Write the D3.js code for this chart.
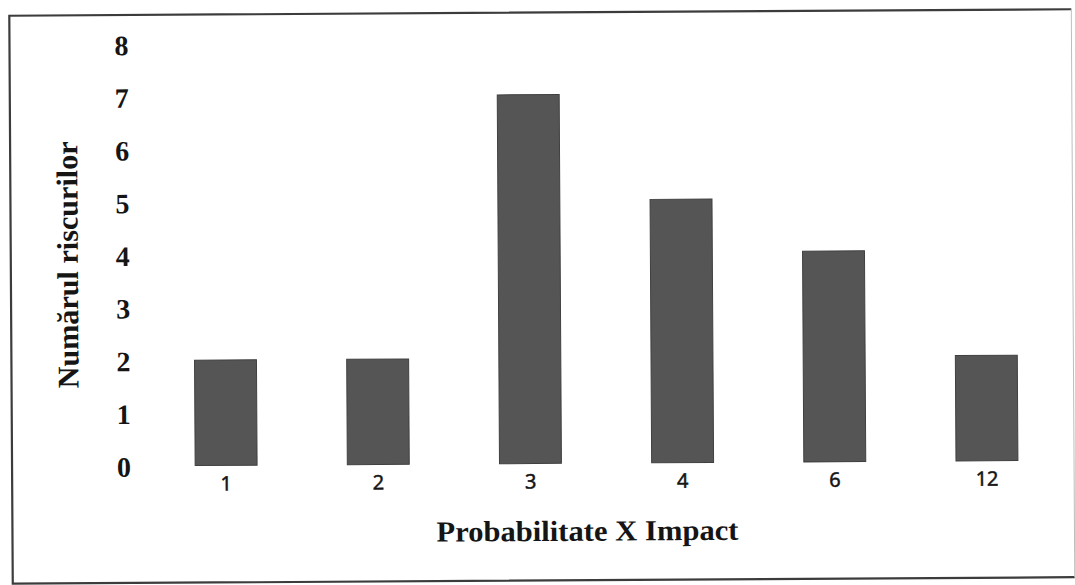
<!DOCTYPE html>
<html>
<head>
<meta charset="utf-8">
<script src="https://cdn.jsdelivr.net/npm/d3@7"></script>
<style>
  html, body { margin: 0; padding: 0; background: #ffffff; }
  svg { display: block; }
</style>
</head>
<body>
<svg id="chart" width="1075" height="585"></svg>
<script>
// Risk count per (probability x impact) score
const categories = ["1", "2", "3", "4", "6", "12"];
const riskCounts = [2, 2, 7, 5, 4, 2];
const yTicks = [0, 1, 2, 3, 4, 5, 6, 7, 8];
const xTitle = "Probabilitate X Impact";
const yTitle = "Numărul riscurilor";

const W = 1075, H = 585;
const svg = d3.select("#chart");

// whole sheet is drawn slightly tilted, as on the printed page
const page = svg.append("g")
  .attr("transform", `rotate(-0.35, ${W / 2}, ${H / 2})`);

// frame around the chart: dark top/left/bottom, faint right edge
const frame = { x0: 11, y0: 12.5, x1: 1073, y1: 580.5 };
page.append("path")
  .attr("d", `M${frame.x1},${frame.y0} H${frame.x0} V${frame.y1} H${frame.x1}`)
  .attr("fill", "none")
  .attr("stroke", "#3c3c3c")
  .attr("stroke-width", 2.2);
page.append("line")
  .attr("x1", frame.x1).attr("y1", frame.y0)
  .attr("x2", frame.x1).attr("y2", frame.y1)
  .attr("stroke", "#bdbdbd")
  .attr("stroke-width", 1);

const x = d3.scaleBand()
  .domain(categories)
  .range([149, 1062])
  .paddingInner(0.593)
  .paddingOuter(0.2965);

const y = d3.scaleLinear()
  .domain([0, 8])
  .range([463.5, 42]);

// bars
page.append("g")
  .selectAll("rect")
  .data(categories)
  .join("rect")
  .attr("x", d => x(d))
  .attr("y", (d, i) => y(riskCounts[i]))
  .attr("width", x.bandwidth())
  .attr("height", (d, i) => y(0) - y(riskCounts[i]))
  .attr("fill", "#555555")
  .attr("stroke", "#404040")
  .attr("stroke-width", 1);

// y axis: labels only, no line or ticks
const yAxis = page.append("g")
  .attr("transform", "translate(131,0)")
  .call(d3.axisLeft(y).tickValues(yTicks).tickFormat(d3.format("d")).tickSize(0).tickPadding(0));
yAxis.select(".domain").remove();
yAxis.selectAll("text")
  .attr("x", -8)
  .attr("dy", "0.36em")
  .attr("text-anchor", "middle")
  .attr("font-family", "'Liberation Serif', 'Times New Roman', serif")
  .attr("font-weight", "bold")
  .attr("font-size", 28)
  .attr("fill", "#151515");

// x axis: labels only
const xAxis = page.append("g")
  .attr("transform", `translate(0,${y(0)})`)
  .call(d3.axisBottom(x).tickSize(0).tickPadding(0));
xAxis.select(".domain").remove();
xAxis.selectAll("text")
  .attr("y", 25)
  .attr("dy", 0)
  .attr("font-family", "'Noto Sans', 'Open Sans', sans-serif")
  .attr("font-size", 20)
  .attr("fill", "#151515")
  .attr("stroke", "#151515")
  .attr("stroke-width", 0.5);

// axis titles
page.append("text")
  .attr("x", 586).attr("y", 541)
  .attr("text-anchor", "middle")
  .attr("font-family", "'Liberation Serif', 'Times New Roman', serif")
  .attr("font-weight", "bold")
  .attr("font-size", 29)
  .attr("textLength", 302)
  .attr("lengthAdjust", "spacingAndGlyphs")
  .attr("fill", "#151515")
  .text(xTitle);

page.append("text")
  .attr("transform", "translate(78,262) rotate(-90)")
  .attr("text-anchor", "middle")
  .attr("font-family", "'Liberation Serif', 'Times New Roman', serif")
  .attr("font-weight", "bold")
  .attr("font-size", 30)
  .attr("textLength", 247)
  .attr("lengthAdjust", "spacingAndGlyphs")
  .attr("fill", "#151515")
  .text(yTitle);
</script>
</body>
</html>
